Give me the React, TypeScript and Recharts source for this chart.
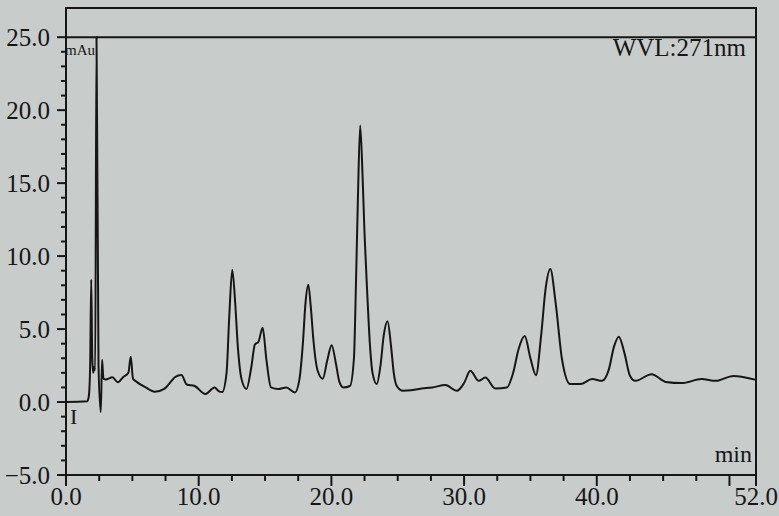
import { LineChart, Line, XAxis, YAxis, ReferenceArea, ReferenceLine } from 'recharts';

// retention time (min) and absorbance (mAu)
const times = [
  0, 1.6, 1.72, 1.82, 1.9, 1.98, 2.05, 2.12, 2.2, 2.3, 2.45, 2.62, 2.72, 2.82, 3.0,
  3.5, 3.9, 4.3, 4.7, 4.88, 5.05, 5.3, 6.0, 6.7, 7.4, 8.0, 8.2, 8.7, 9.1, 9.7,
  10.5, 11.2, 11.5, 11.77, 12.1, 12.3, 12.53, 12.75, 12.95, 13.23, 13.6, 13.95, 14.24, 14.49, 14.82,
  15.1, 15.45, 16.0, 16.6, 17.26, 17.6, 17.85, 18.05, 18.26, 18.45, 18.64, 18.95, 19.35, 19.7, 20.02,
  20.35, 20.6, 20.9, 21.4, 21.7, 21.85, 22.0, 22.17, 22.35, 22.5, 22.7, 22.9, 23.1, 23.42, 23.7,
  23.95, 24.23, 24.5, 24.7, 24.93, 25.4, 26.0, 26.6, 27.6, 28.6, 29.46, 30.0, 30.47, 31.1, 31.6,
  32.35, 33.23, 33.7, 34.1, 34.57, 35.0, 35.42, 35.8, 36.15, 36.5, 36.9, 37.38, 38.0, 38.77, 39.65,
  40.4, 40.9, 41.3, 41.66, 42.1, 42.5, 42.9, 44.13, 45.2, 46.4, 47.9, 48.96, 50.3, 52.0,
];
const signal = [
  0, 0.05, 0.4, 2.5, 8.4, 3.0, 2.0, 2.4, 2.2, 25.0, 2.5, -0.7, 2.9, 1.6, 1.55,
  1.7, 1.35, 1.7, 2.0, 3.1, 1.6, 1.4, 1.0, 0.7, 0.9, 1.5, 1.7, 1.85, 1.2, 1.1,
  0.55, 1.0, 0.75, 0.68, 2.0, 5.8, 9.07, 6.8, 3.8, 1.57, 0.89, 2.3, 3.95, 4.1, 5.09,
  2.93, 1.0, 0.89, 1.0, 0.66, 1.6, 4.0, 6.8, 8.04, 6.5, 4.3, 2.2, 1.6, 2.9, 3.89,
  2.6, 1.4, 1.0, 1.1, 3.0, 8.0, 14.0, 18.95, 15.5, 11.5, 7.5, 4.0, 2.0, 1.23, 2.5,
  4.6, 5.54, 3.8, 2.0, 1.1, 0.77, 0.8, 0.9, 1.0, 1.16, 0.77, 1.3, 2.14, 1.45, 1.68,
  0.93, 1.0, 2.0, 3.6, 4.52, 3.0, 1.84, 4.5, 7.8, 9.11, 6.8, 2.93, 1.23, 1.23, 1.57,
  1.45, 2.2, 3.8, 4.48, 3.3, 1.8, 1.45, 1.91, 1.38, 1.3, 1.57, 1.45, 1.79, 1.52,
];

const xTicks = [0, 2.5, 5, 7.5, 10, 12.5, 15, 17.5, 20, 22.5, 25, 27.5, 30, 32.5, 35, 37.5, 40, 42.5, 45, 47.5, 50, 52];
const xLabels = [0, 10, 20, 30, 40, 52];
const yTicks = [-5, -4, -3, -2, -1, 0, 1, 2, 3, 4, 5, 6, 7, 8, 9, 10, 11, 12, 13, 14, 15, 16, 17, 18, 19, 20, 21, 22, 23, 24, 25];
const yLabels = [-5, 0, 5, 10, 15, 20, 25];

const chartData = times.map((t, i) => ({ t, v: signal[i] }));

const INK = '#161616';
const FONT = '"Liberation Serif", "DejaVu Serif", serif';

const fmt = (v: number) => (v < 0 ? '\u2212' + Math.abs(v).toFixed(1) : v.toFixed(1));

function YTick({ x, y, payload }: any) {
  const major = yLabels.includes(payload.value);
  return (
    <g>
      <line x1={x} x2={x - (major ? 9 : 5)} y1={y} y2={y} stroke={INK} strokeWidth={2} />
      {major && (
        <text x={x - 16} y={y} dy={9} textAnchor="end" fontSize={25} fontFamily={FONT} fill={INK}>
          {fmt(payload.value)}
        </text>
      )}
    </g>
  );
}

function XTick({ x, y, payload }: any) {
  const major = xLabels.includes(payload.value) || payload.value === 50;
  const labelled = xLabels.includes(payload.value);
  return (
    <g>
      <line x1={x} x2={x} y1={y} y2={y + (major ? 11 : 6)} stroke={INK} strokeWidth={2} />
      {labelled && (
        <text x={x} y={y + 30} textAnchor="middle" fontSize={25} fontFamily={FONT} fill={INK}>
          {fmt(payload.value)}
        </text>
      )}
    </g>
  );
}

export default function App() {
  return (
    <div style={{ position: 'absolute', left: 0, top: 0, width: 779, height: 516, background: '#c8cccb', overflow: 'hidden' }}>
      <LineChart width={779} height={516} data={chartData} margin={{ top: 8, right: 23, left: 0, bottom: 0 }}>
        <XAxis
          dataKey="t"
          type="number"
          domain={[0, 52]}
          ticks={xTicks}
          interval={0}
          height={41}
          tickSize={0}
          tickMargin={0}
          tickLine={false}
          axisLine={{ stroke: INK, strokeWidth: 2 }}
          tick={<XTick />}
        />
        <YAxis
          type="number"
          domain={[-5, 27]}
          ticks={yTicks}
          interval={0}
          width={66}
          tickSize={0}
          tickMargin={0}
          tickLine={false}
          axisLine={{ stroke: INK, strokeWidth: 2 }}
          tick={<YTick />}
        />
        <ReferenceArea x1={0} x2={52} y1={-5} y2={27} fill="none" stroke={INK} strokeWidth={2} />
        <ReferenceLine y={25} stroke={INK} strokeWidth={2} />
        <Line
          type="monotone"
          dataKey="v"
          stroke={INK}
          strokeWidth={2}
          dot={false}
          isAnimationActive={false}
        />
        <text x={746} y={56} textAnchor="end" fontSize={25} fontFamily={FONT} fill={INK}>
          WVL:271nm
        </text>
        <text x={65} y={55} fontSize={15} fontFamily={FONT} fill={INK}>
          mAu
        </text>
        <text x={70} y={424} fontSize={22} fontFamily={FONT} fill={INK}>
          I
        </text>
        <text x={752} y={462} textAnchor="end" fontSize={24} fontFamily={FONT} fill={INK}>
          min
        </text>
      </LineChart>
    </div>
  );
}
